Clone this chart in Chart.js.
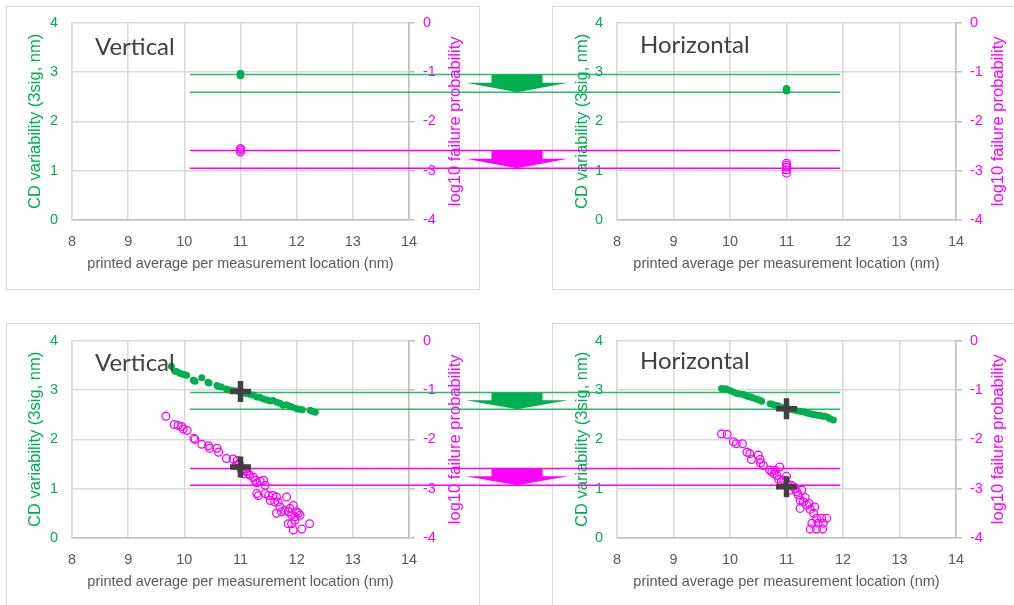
<!DOCTYPE html>
<html>
<head>
<meta charset="utf-8">
<title>CD variability and failure probability</title>
<script src="https://cdn.jsdelivr.net/npm/chart.js@4"></script>
<style>
  html, body { margin: 0; padding: 0; background: #fff; }
  body { position: relative; width: 1014px; height: 605px; overflow: hidden; }
  .panel { position: absolute; border: 1px solid #d9d9d9; box-sizing: border-box; }
  canvas { position: absolute; }
  .tag { position: absolute; font-family: Lato, sans-serif; font-size: 24px; line-height: 24px; color: #404040; white-space: nowrap; }
</style>
</head>
<body>
<div class="panel" style="left:6px;top:6px;width:474px;height:284px"></div>
<div class="panel" style="left:552px;top:6px;width:480px;height:284px"></div>
<div class="panel" style="left:6px;top:323px;width:474px;height:300px"></div>
<div class="panel" style="left:552px;top:323px;width:480px;height:300px"></div>

<canvas id="tl" width="517" height="300" style="left:0;top:0"></canvas>
<canvas id="tr" width="497" height="300" style="left:517px;top:0"></canvas>
<canvas id="bl" width="517" height="300" style="left:0;top:318px"></canvas>
<canvas id="br" width="497" height="300" style="left:517px;top:318px"></canvas>

<div class="tag" style="left:95px;top:34px">Vertical</div>
<div class="tag" style="left:640px;top:32px">Horizontal</div>
<div class="tag" style="left:95px;top:350px">Vertical</div>
<div class="tag" style="left:640px;top:348px">Horizontal</div>

<script>
// axis text
const xTitle = "printed average per measurement location (nm)";
const yTitle = "CD variability (3sig, nm)";
const y1Title = "log10 failure probability";

// top row: single measurement at 11 nm
const tlGreenX = [11, 11];
const tlGreenY = [2.93, 2.97];
const tlMagX = [11, 11, 11];
const tlMagY = [-2.62, -2.58, -2.55];

const trGreenX = [11, 11];
const trGreenY = [2.62, 2.66];
const trMagX = [11, 11, 11, 11, 11];
const trMagY = [-2.85, -2.89, -2.93, -2.98, -3.05];

// bottom row: per measurement location
const blGreenX = [9.77, 9.83, 9.87, 9.92, 9.97, 10.01, 10.04, 10.16, 10.19, 10.31, 10.42, 10.44, 10.58, 10.61, 10.66, 10.75, 10.80, 10.88, 10.95, 11.05, 11.10, 11.17, 11.22, 11.29, 11.35, 11.41, 11.47, 11.53, 11.58, 11.65, 11.70, 11.76, 11.82, 11.88, 11.93, 12.00, 12.05, 12.10, 12.24, 12.28, 12.33];
const blGreenY = [3.48, 3.38, 3.37, 3.34, 3.32, 3.31, 3.30, 3.20, 3.18, 3.25, 3.16, 3.14, 3.09, 3.07, 3.06, 3.02, 3.00, 2.99, 2.98, 2.95, 2.93, 2.91, 2.90, 2.86, 2.85, 2.82, 2.80, 2.78, 2.79, 2.75, 2.73, 2.69, 2.70, 2.67, 2.65, 2.62, 2.61, 2.60, 2.59, 2.57, 2.55];
const blMagX = [9.67, 9.82, 9.89, 9.95, 9.98, 10.05, 10.17, 10.19, 10.31, 10.43, 10.45, 10.58, 10.61, 10.75, 10.87, 10.92, 10.94, 10.98, 11.02, 11.05, 11.08, 11.11, 11.14, 11.17, 11.23, 11.26, 11.29, 11.35, 11.41, 11.44, 11.29, 11.32, 11.44, 11.50, 11.53, 11.58, 11.61, 11.64, 11.67, 11.70, 11.64, 11.73, 11.79, 11.82, 11.85, 11.88, 11.91, 11.94, 11.97, 12.00, 12.03, 12.06, 11.85, 11.91, 11.97, 11.94, 12.09, 12.23];
const blMagY = [-1.53, -1.70, -1.72, -1.74, -1.79, -1.82, -1.98, -2.00, -2.10, -2.13, -2.18, -2.18, -2.26, -2.39, -2.40, -2.53, -2.43, -2.50, -2.63, -2.70, -2.60, -2.65, -2.70, -2.73, -2.77, -2.83, -2.88, -2.85, -2.83, -2.93, -3.10, -3.14, -3.10, -3.14, -3.24, -3.14, -3.27, -3.17, -3.27, -3.37, -3.50, -3.47, -3.44, -3.17, -3.47, -3.40, -3.54, -3.34, -3.57, -3.47, -3.50, -3.54, -3.71, -3.71, -3.64, -3.84, -3.82, -3.71];

const brGreenX = [9.85, 9.90, 9.94, 10.00, 10.06, 10.12, 10.18, 10.24, 10.28, 10.32, 10.37, 10.41, 10.47, 10.52, 10.56, 10.71, 10.75, 10.80, 10.85, 10.88, 10.94, 11.00, 11.06, 11.12, 11.18, 11.24, 11.30, 11.33, 11.38, 11.42, 11.46, 11.50, 11.55, 11.59, 11.64, 11.68, 11.73, 11.77, 11.83];
const brGreenY = [3.03, 3.02, 3.02, 2.99, 2.96, 2.93, 2.92, 2.91, 2.89, 2.87, 2.86, 2.84, 2.82, 2.80, 2.77, 2.72, 2.71, 2.69, 2.68, 2.66, 2.64, 2.62, 2.61, 2.60, 2.58, 2.57, 2.56, 2.55, 2.53, 2.52, 2.51, 2.50, 2.49, 2.49, 2.47, 2.47, 2.45, 2.42, 2.39];
const brMagX = [9.85, 9.95, 10.06, 10.11, 10.22, 10.30, 10.35, 10.38, 10.50, 10.53, 10.54, 10.59, 10.74, 10.80, 10.88, 10.83, 10.86, 10.91, 11.00, 11.01, 11.06, 11.12, 11.18, 11.21, 11.27, 11.24, 11.30, 11.36, 11.24, 11.42, 11.50, 11.48, 11.53, 11.62, 11.71, 11.45, 11.56, 11.65, 11.42, 11.53, 11.64, 10.70, 10.78, 10.95, 11.08, 11.15, 11.33, 11.40];
const brMagY = [-1.89, -1.90, -2.05, -2.09, -2.09, -2.26, -2.29, -2.41, -2.32, -2.41, -2.48, -2.53, -2.66, -2.63, -2.56, -2.73, -2.81, -2.86, -2.75, -2.90, -3.03, -2.96, -3.06, -3.13, -3.03, -3.23, -3.27, -3.33, -3.40, -3.42, -3.37, -3.50, -3.60, -3.60, -3.60, -3.70, -3.70, -3.70, -3.82, -3.82, -3.82, -2.62, -2.70, -2.83, -2.93, -3.00, -3.18, -3.30];

// highlighted 11 nm values (plus markers)
const blPlusGreen = [11, 2.97];
const blPlusMag = [11, -2.56];
const brPlusGreen = [11, 2.62];
const brPlusMag = [11, -2.96];

// reference lines across both panels
const topGreenLines = [2.95, 2.59];
const topMagLines = [-2.59, -2.95];
const botGreenLines = [2.95, 2.61];
const botMagLines = [-2.59, -2.93];
const lineStart = 10.1;   // on the Vertical panel
const lineEnd = 11.95;    // on the Horizontal panel

const green = '#00b050';
const magenta = '#ff00ff';
const grey = '#595959';
const gridCol = '#d9d9d9';
const axisCol = '#bfbfbf';

Chart.defaults.font.family = "'Liberation Sans', Arial, sans-serif";

function pts(xs, ys) {
  return xs.map((x, i) => ({x: x, y: ys[i]}));
}

const crossLines = {
  id: 'crossLines',
  beforeDatasetsDraw(chart, args, opts) {
    const ctx = chart.ctx;
    const xs = chart.scales.x;
    let x0, x1, cx;
    if (opts.side === 'left') {
      x0 = xs.getPixelForValue(lineStart); x1 = chart.width; cx = chart.width;
    } else {
      x0 = 0; x1 = xs.getPixelForValue(lineEnd); cx = 0;
    }
    ctx.save();
    [[chart.scales.y, opts.green, green], [chart.scales.y1, opts.magenta, magenta]].forEach(item => {
      const scale = item[0], vals = item[1], col = item[2];
      const yT = scale.getPixelForValue(vals[0]);
      const yB = scale.getPixelForValue(vals[1]);
      const yS = yT + 0.47 * (yB - yT);
      // arrow
      ctx.fillStyle = col;
      ctx.beginPath();
      ctx.moveTo(cx - 25.5, yT);
      ctx.lineTo(cx + 25.5, yT);
      ctx.lineTo(cx + 25.5, yS);
      ctx.lineTo(cx + 51, yS);
      ctx.lineTo(cx, yB);
      ctx.lineTo(cx - 51, yS);
      ctx.lineTo(cx - 25.5, yS);
      ctx.closePath();
      ctx.fill();
      // lines
      ctx.strokeStyle = col;
      ctx.globalAlpha = col === green ? 0.85 : 1;
      ctx.lineWidth = 1.5;
      vals.forEach(v => {
        const yy = scale.getPixelForValue(v);
        ctx.beginPath();
        ctx.moveTo(x0, yy);
        ctx.lineTo(x1, yy);
        ctx.stroke();
      });
      ctx.globalAlpha = 1;
    });
    ctx.restore();
  },
  afterDraw(chart) {
    // right axis title reads bottom to top
    const s = chart.scales.y1;
    const ctx = chart.ctx;
    ctx.save();
    ctx.translate(s.right - 14, (chart.chartArea.top + chart.chartArea.bottom) / 2);
    ctx.rotate(-Math.PI / 2);
    ctx.fillStyle = magenta;
    ctx.font = "16.5px 'Liberation Sans', Arial, sans-serif";
    ctx.textAlign = 'center';
    ctx.textBaseline = 'middle';
    ctx.fillText(y1Title, 0, 0);
    ctx.restore();
  }
};

function makeChart(id, side, d) {
  const isLeft = side === 'left';
  const datasets = [];
  if (d.plusGreen) {
    datasets.push({data: [{x: d.plusGreen[0], y: d.plusGreen[1]}], yAxisID: 'y', pointStyle: 'cross',
      pointRadius: 10.5, pointBorderWidth: 5.5, borderColor: '#404040', backgroundColor: '#404040'});
    datasets.push({data: [{x: d.plusMag[0], y: d.plusMag[1]}], yAxisID: 'y1', pointStyle: 'cross',
      pointRadius: 10.5, pointBorderWidth: 5.5, borderColor: '#404040', backgroundColor: '#404040'});
  }
  datasets.push({data: pts(d.greenX, d.greenY), yAxisID: 'y', pointRadius: d.big ? 3.8 : 3.5,
    pointBorderWidth: 0, backgroundColor: green, borderColor: green});
  datasets.push({data: pts(d.magX, d.magY), yAxisID: 'y1', pointRadius: 3.9,
    pointBorderWidth: 1.3, backgroundColor: 'rgba(0,0,0,0)', borderColor: magenta});

  new Chart(document.getElementById(id), {
    type: 'scatter',
    data: {datasets: datasets},
    options: {
      responsive: false,
      animation: false,
      events: [],
      layout: {padding: {left: isLeft ? 22 : 52, right: isLeft ? 48 : 2, top: 21, bottom: 23}},
      plugins: {
        legend: {display: false},
        tooltip: {enabled: false},
        crossLines: {side: side, green: d.lines[0], magenta: d.lines[1]}
      },
      scales: {
        x: {
          type: 'linear', min: 8, max: 14,
          ticks: {stepSize: 1, color: grey, padding: 13, font: {size: 14.5}},
          grid: {color: gridCol, lineWidth: 1.5, drawTicks: false},
          border: {color: axisCol, width: 1.5},
          title: {display: true, text: xTitle, color: grey, font: {size: 14.5}, padding: 4},
          afterFit: s => { s.height = 57; }
        },
        y: {
          min: 0, max: 4,
          ticks: {stepSize: 1, color: green, padding: 14, font: {size: 14.5}},
          grid: {color: gridCol, lineWidth: 1.5, drawTicks: false},
          border: {color: gridCol, width: 1.5},
          title: {display: true, text: yTitle, color: green, font: {size: 16.5}, padding: 4},
          afterFit: s => { s.width = isLeft ? 50 : 48; }
        },
        y1: {
          position: 'right', min: -4, max: 0,
          ticks: {stepSize: 1, color: magenta, padding: 8, font: {size: 14.5}},
          grid: {drawOnChartArea: false, color: axisCol, lineWidth: 1.5, tickLength: 6},
          border: {color: axisCol, width: 1.5},
          afterFit: s => { s.width = isLeft ? 60 : 56; }
        }
      }
    },
    plugins: [crossLines]
  });
}

makeChart('tl', 'left', {greenX: tlGreenX, greenY: tlGreenY, magX: tlMagX, magY: tlMagY, big: true,
  lines: [topGreenLines, topMagLines]});
makeChart('tr', 'right', {greenX: trGreenX, greenY: trGreenY, magX: trMagX, magY: trMagY, big: true,
  lines: [topGreenLines, topMagLines]});
makeChart('bl', 'left', {greenX: blGreenX, greenY: blGreenY, magX: blMagX, magY: blMagY,
  plusGreen: blPlusGreen, plusMag: blPlusMag, lines: [botGreenLines, botMagLines]});
makeChart('br', 'right', {greenX: brGreenX, greenY: brGreenY, magX: brMagX, magY: brMagY,
  plusGreen: brPlusGreen, plusMag: brPlusMag, lines: [botGreenLines, botMagLines]});
</script>
</body>
</html>
